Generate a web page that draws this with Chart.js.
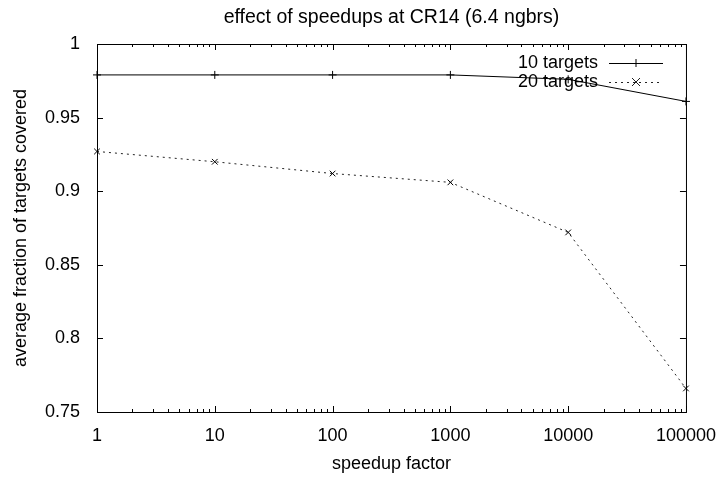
<!DOCTYPE html>
<html>
<head>
<meta charset="utf-8">
<script src="https://cdn.jsdelivr.net/npm/chart.js@4.4.1/dist/chart.umd.min.js"></script>
<style>
  body { margin: 0; background: #fff; }
  #wrap { width: 721px; height: 477px; }
</style>
</head>
<body>
<div id="wrap"><canvas id="speedupChart" width="721" height="477"></canvas></div>
<script>
const speedups = [1, 10, 100, 1000, 10000, 100000];
const targets10 = [0.979, 0.979, 0.979, 0.979, 0.976, 0.961];
const targets20 = [0.927, 0.920, 0.912, 0.906, 0.872, 0.766];
const seriesNames = ["10 targets", "20 targets"];
const xTicks = [1, 10, 100, 1000, 10000, 100000];
const yTicks = [0.75, 0.8, 0.85, 0.9, 0.95, 1];

const FONT = "'Liberation Sans', Arial, sans-serif";

// gnuplot style: inward ticks on all four sides, a plain box, key inside top right
const gnuplotBits = {
  id: "gnuplotBits",
  afterDatasetsDraw(chart) {
    const ctx = chart.ctx;
    const a = chart.chartArea;
    const xs = chart.scales.x;
    const ys = chart.scales.y;
    ctx.save();
    ctx.strokeStyle = "#000";
    ctx.lineWidth = 1;
    ctx.strokeRect(a.left + 0.5, a.top + 0.5, a.right - a.left, a.bottom - a.top);

    ctx.beginPath();
    xTicks.forEach((d, i) => {
      const px = Math.round(xs.getPixelForValue(d)) + 0.5;
      ctx.moveTo(px, a.bottom); ctx.lineTo(px, a.bottom - 6);
      ctx.moveTo(px, a.top); ctx.lineTo(px, a.top + 6);
      if (i < xTicks.length - 1) {
        for (let m = 2; m < 10; m++) {
          const mx = Math.round(xs.getPixelForValue(d * m)) + 0.5;
          ctx.moveTo(mx, a.bottom); ctx.lineTo(mx, a.bottom - 3);
          ctx.moveTo(mx, a.top); ctx.lineTo(mx, a.top + 3);
        }
      }
    });
    yTicks.forEach(v => {
      const py = Math.round(ys.getPixelForValue(v)) + 0.5;
      ctx.moveTo(a.left, py); ctx.lineTo(a.left + 6, py);
      ctx.moveTo(a.right, py); ctx.lineTo(a.right - 6, py);
    });
    ctx.stroke();

    // key
    ctx.font = "18px " + FONT;
    ctx.fillStyle = "#000";
    ctx.textAlign = "right";
    ctx.textBaseline = "middle";
    chart.data.datasets.forEach((ds, i) => {
      const y = 63 + i * 19;
      ctx.fillText(ds.label, 598, y);
      ctx.beginPath();
      ctx.strokeStyle = ds.borderColor;
      ctx.setLineDash(ds.borderDash || []);
      ctx.moveTo(609, y + 0.5); ctx.lineTo(663, y + 0.5);
      ctx.stroke();
      ctx.setLineDash([]);
      ctx.beginPath();
      if (ds.pointStyle === "cross") {
        ctx.moveTo(636, y - 4); ctx.lineTo(636, y + 4);
        ctx.moveTo(632, y + 0.5); ctx.lineTo(640, y + 0.5);
      } else {
        ctx.moveTo(632, y - 4); ctx.lineTo(640, y + 4);
        ctx.moveTo(640, y - 4); ctx.lineTo(632, y + 4);
      }
      ctx.stroke();
    });
    ctx.restore();
  }
};

new Chart(document.getElementById("speedupChart"), {
  type: "line",
  data: {
    datasets: [
      {
        label: seriesNames[0],
        data: speedups.map((s, i) => ({ x: s, y: targets10[i] })),
        borderColor: "#000",
        borderWidth: 1,
        pointStyle: "cross",
        pointRadius: 4,
        pointBorderWidth: 1,
        pointBorderColor: "#000",
        fill: false,
        tension: 0
      },
      {
        label: seriesNames[1],
        data: speedups.map((s, i) => ({ x: s, y: targets20[i] })),
        borderColor: "#222",
        borderWidth: 1,
        borderDash: [2, 4],
        pointStyle: "crossRot",
        pointRadius: 4,
        pointBorderWidth: 1,
        pointBorderColor: "#000",
        fill: false,
        tension: 0
      }
    ]
  },
  options: {
    responsive: false,
    animation: false,
    clip: false,
    layout: { padding: { top: 0, right: 34, left: 0, bottom: 0 } },
    plugins: {
      legend: { display: false },
      tooltip: { enabled: false },
      title: {
        display: true,
        fullSize: false,
        text: "effect of speedups at CR14 (6.4 ngbrs)",
        color: "#000",
        font: { family: FONT, size: 19.5, weight: "normal" },
        padding: { top: 6, bottom: 14.6 }
      }
    },
    scales: {
      x: {
        type: "logarithmic",
        min: 1,
        max: 100000,
        grid: { display: false },
        border: { display: false },
        afterBuildTicks: scale => { scale.ticks = xTicks.map(v => ({ value: v })); },
        afterFit: scale => { scale.height = 65; },
        ticks: {
          color: "#000",
          padding: 5,
          maxRotation: 0,
          autoSkip: false,
          font: { family: FONT, size: 18 },
          callback: v => String(v)
        },
        title: {
          display: true,
          text: "speedup factor",
          color: "#000",
          padding: 2,
          font: { family: FONT, size: 18 }
        }
      },
      y: {
        min: 0.75,
        max: 1,
        grid: { display: false },
        border: { display: false },
        afterBuildTicks: scale => { scale.ticks = yTicks.map(v => ({ value: v })); },
        afterFit: scale => { scale.width = 97; },
        ticks: {
          color: "#000",
          padding: 9,
          font: { family: FONT, size: 18 },
          callback: v => String(Math.round(v * 100) / 100)
        },
        title: {
          display: true,
          text: "average fraction of targets covered",
          color: "#000",
          padding: 10,
          font: { family: FONT, size: 18 }
        }
      }
    }
  },
  plugins: [gnuplotBits]
});
</script>
</body>
</html>
